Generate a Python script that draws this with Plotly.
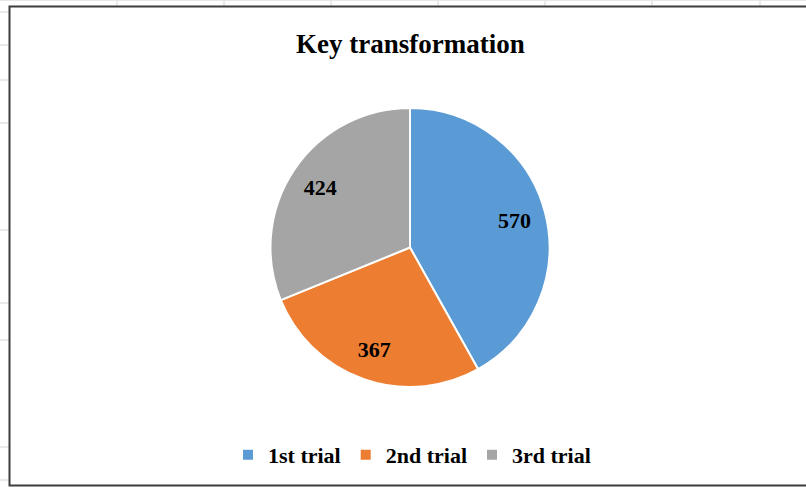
import plotly.graph_objects as go

# ---- data ----
title_text = "Key transformation"
categories = ["1st trial", "2nd trial", "3rd trial"]
values = [570, 367, 424]
colors = ["#5B9BD5", "#ED7D31", "#A5A5A5"]

W, H = 806, 489

def px(x):
    return x / W

def py(y):
    return (H - y) / H

cx, cy, R = 410, 247.5, 139.5
domain = dict(x=[px(cx - R), px(cx + R)], y=[py(cy + R), py(cy - R)])

fig = go.Figure()
# coloured slices
fig.add_trace(go.Pie(
    labels=categories,
    values=values,
    sort=False,
    direction="clockwise",
    rotation=0,
    marker=dict(colors=colors, line=dict(color="white", width=2)),
    textinfo="none",
    domain=domain,
    hoverinfo="label+value+percent",
))
# transparent ring carrying the value labels at Excel-like radius
fig.add_trace(go.Pie(
    labels=categories,
    values=values,
    sort=False,
    direction="clockwise",
    rotation=0,
    hole=0.55,
    marker=dict(colors=["rgba(0,0,0,0)"] * 3, line=dict(width=0)),
    textinfo="value",
    textposition="inside",
    insidetextorientation="horizontal",
    textfont=dict(family="Liberation Serif", size=22, color="black", weight="bold"),
    domain=domain,
    showlegend=False,
    hoverinfo="skip",
))

shapes = []
# spreadsheet grid remnants (top)
for gx in [117, 224, 331, 438, 545, 652, 760]:
    shapes.append(dict(type="line", xref="paper", yref="paper",
                       x0=px(gx), x1=px(gx), y0=py(0), y1=py(6),
                       line=dict(color="#d4d4d4", width=1)))
shapes.append(dict(type="line", xref="paper", yref="paper",
                   x0=0, x1=1, y0=py(0.5), y1=py(0.5),
                   line=dict(color="#e6e6e6", width=1)))
# spreadsheet grid remnants (left)
for gy in [12, 45, 80, 123, 230, 303, 340, 447, 480]:
    shapes.append(dict(type="line", xref="paper", yref="paper",
                       x0=px(0), x1=px(9), y0=py(gy), y1=py(gy),
                       line=dict(color="#d4d4d4", width=1)))
# chart border
shapes.append(dict(type="rect", xref="paper", yref="paper",
                   x0=px(9.5), x1=px(830), y0=py(485.5), y1=py(6.5),
                   line=dict(color="#3c3c3c", width=2), fillcolor="rgba(0,0,0,0)"))

fig.update_layout(
    width=W, height=H,
    margin=dict(l=0, r=0, t=0, b=0),
    paper_bgcolor="white",
    plot_bgcolor="white",
    shapes=shapes,
    showlegend=True,
    legend=dict(
        orientation="h",
        x=px(412), xanchor="center",
        y=py(455), yanchor="middle",
        font=dict(family="Liberation Serif", size=22, color="black", weight="bold"),
        itemwidth=30,
        traceorder="normal",
    ),
    annotations=[dict(
        text=title_text, xref="paper", yref="paper",
        x=px(410), y=py(44), xanchor="center", yanchor="middle",
        showarrow=False,
        font=dict(family="Liberation Serif", size=27, color="black", weight="bold"),
    )],
)

fig.write_html(
    "out.html",
    config={"displayModeBar": False},
    post_script="document.body.style.margin='0';document.body.style.overflow='hidden';",
)
